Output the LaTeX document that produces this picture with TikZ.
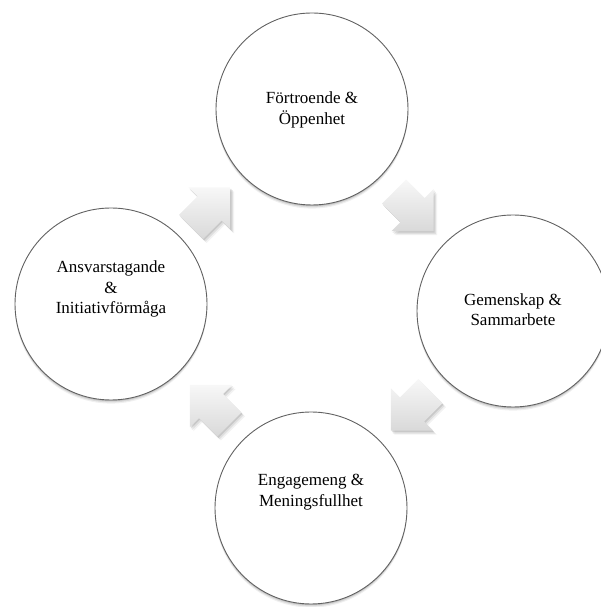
\documentclass[tikz,border=0pt]{standalone}
\usepackage{fontspec}
\setmainfont{Liberation Serif}
\usetikzlibrary{calc}

% Block arrow outline, pointing along +x, head base at the origin
\newcommand\blockarrow[1]{%
  \path[#1] (-26,-17) -- (0,-17) -- (0,-30) -- (30,0) -- (0,30) -- (0,17) -- (-26,17) -- cycle;}

\begin{document}
\begin{tikzpicture}[x=1pt,y=1pt,
  stage/.style={circle, minimum size=192pt, inner sep=0pt,
    preaction={fill=black, fill opacity=0.06, transform canvas={yshift=-3.6pt}},
    preaction={fill=black, fill opacity=0.09, transform canvas={yshift=-2.4pt}},
    preaction={fill=black, fill opacity=0.12, transform canvas={yshift=-1.2pt}},
    fill=white, draw=black!62, line width=0.9pt},
  caption/.style={align=center, inner sep=0pt,
    font=\fontsize{17}{20.5}\selectfont, text=black},
  cycle arrow/.pic={
    \blockarrow{fill=black, fill opacity=0.05, transform canvas={shift={(3.5pt,-4pt)}}}
    \blockarrow{fill=black, fill opacity=0.08, transform canvas={shift={(2.2pt,-2.8pt)}}}
    \blockarrow{fill=black, fill opacity=0.10, transform canvas={shift={(1pt,-1.5pt)}}}
    \blockarrow{top color=black!3, bottom color=black!15}
  }
]
\useasboundingbox (0,0) rectangle (601,607);

% the four stages of the cycle
\node[stage] (trust)  at (312,498) {};
\node[stage] (team)   at (513,296) {};
\node[stage] (engage) at (311,99)  {};
\node[stage] (resp)   at (111,303) {};

% stage texts
\node[caption] (trust-t)  at ($(trust)+(0,-1)$)   {Förtroende \&\\Öppenhet};
\node[caption] (team-t)   at ($(team)+(0,1.5)$)   {Gemenskap \&\\Sammarbete};
\node[caption] (engage-t) at ($(engage)+(0,16)$)  {Engagemeng \&\\Meningsfullhet};
\node[caption] (resp-t)   at ($(resp)+(0,15)$)    {Ansvarstagande\\\&\\Initiativförmåga};

% clockwise block arrows between neighbouring stages
\pic[rotate=45]   at ($(resp)!0.5!(trust)+(-2,-2)$)  {cycle arrow};
\pic[rotate=-45]  at ($(trust)!0.5!(team)$)          {cycle arrow};
\pic[rotate=-135] at ($(team)!0.5!(engage)$)         {cycle arrow};
\pic[rotate=135]  at ($(engage)!0.5!(resp)$)         {cycle arrow};
\end{tikzpicture}
\end{document}
